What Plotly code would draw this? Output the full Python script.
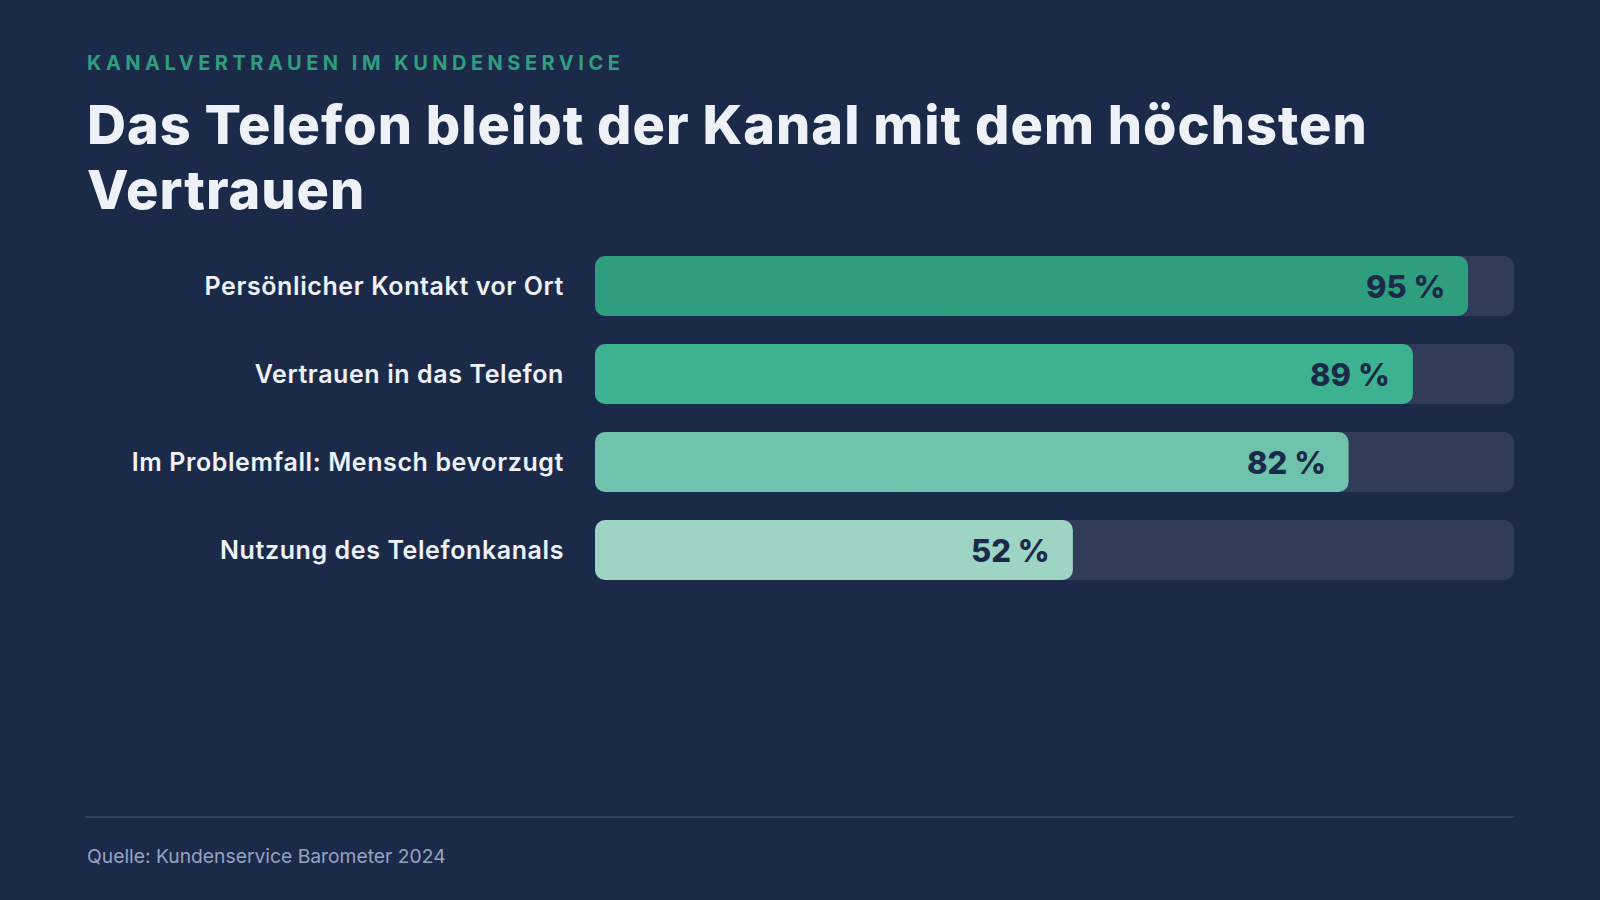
import plotly.graph_objects as go

categories = ["Persönlicher Kontakt vor Ort", "Vertrauen in das Telefon",
              "Im Problemfall: Mensch bevorzugt", "Nutzung des Telefonkanals"]
values = [95, 89, 82, 52]
value_labels = ["95 %", "89 %", "82 %", "52 %"]
bar_colors = ["#2E9E7E", "#3DB291", "#6FC3AC", "#9DD4C3"]
track_max = 100

kicker = "KANALVERTRAUEN IM KUNDENSERVICE"
title_lines = ["Das Telefon bleibt der Kanal mit dem höchsten", "Vertrauen"]
source = "Quelle: Kundenservice Barometer 2024"

BG = "#1C2A4A"
TRACK = "#313C5B"
FONT = "Inter"
W, H = 1600, 900
X0, X1 = 595, 1514
YTOP, YBOT = 242, 594
RAD = 10

fig = go.Figure()

def rounded_bar(vals, colors):
    # two overlapping halves so both ends get rounded corners
    fig.add_bar(y=categories, x=[-0.6 * v for v in vals], base=[0.6 * v for v in vals],
                orientation="h", marker=dict(color=colors, cornerradius=RAD, line_width=0),
                hoverinfo="skip", showlegend=False)
    fig.add_bar(y=categories, x=[0.6 * v for v in vals], base=[0.4 * v for v in vals],
                orientation="h", marker=dict(color=colors, cornerradius=RAD, line_width=0),
                hoverinfo="skip", showlegend=False)

rounded_bar([track_max] * len(categories), TRACK)
rounded_bar(values, bar_colors)

annotations = []
for c, v, lab in zip(categories, values, value_labels):
    annotations.append(dict(x=v, y=c, xref="x", yref="y", text=lab, showarrow=False,
                            xanchor="right", yanchor="middle", xshift=-21,
                            font=dict(family=FONT, size=31, color=BG, weight=800)))

annotations.append(dict(x=85 / W, y=1 - 63 / H, xref="paper", yref="paper",
                        text=f'<span style="letter-spacing:4.5px">{kicker}</span>',
                        showarrow=False, xanchor="left", yanchor="middle",
                        font=dict(family=FONT, size=20, color="#2E9E7E", weight=700)))
for i, line in enumerate(title_lines):
    annotations.append(dict(x=85 / W, y=1 - (124.5 + 65 * i) / H, xref="paper", yref="paper",
                            text=f'<span style="letter-spacing:1px">{line}</span>',
                            showarrow=False, xanchor="left", yanchor="middle",
                            font=dict(family=FONT, size=54, color="#EEF2F8", weight=800)))
annotations.append(dict(x=85 / W, y=1 - 856 / H, xref="paper", yref="paper",
                        text=source, showarrow=False, xanchor="left", yanchor="middle",
                        font=dict(family=FONT, size=19.3, color="#95A3C2", weight=400)))

tick_text = [f'<span style="letter-spacing:0.6px">{c}</span>' for c in categories]

fig.update_layout(
    width=W, height=H,
    margin=dict(l=0, r=0, t=0, b=0),
    paper_bgcolor=BG, plot_bgcolor=BG,
    barmode="overlay", bargap=1 - 60 / 88,
    showlegend=False, hovermode=False,
    xaxis=dict(range=[0, track_max], domain=[X0 / W, X1 / W], visible=False, fixedrange=True),
    yaxis=dict(categoryorder="array", categoryarray=categories, autorange="reversed",
               tickmode="array", tickvals=categories, ticktext=tick_text,
               domain=[1 - YBOT / H, 1 - YTOP / H], showgrid=False, zeroline=False,
               showline=False, ticks="", ticklabelstandoff=30, fixedrange=True,
               tickfont=dict(family=FONT, size=25, color="#EEF2F8", weight=600)),
    annotations=annotations,
    shapes=[dict(type="line", xref="paper", yref="paper", x0=85 / W, x1=X1 / W,
                 y0=1 - 817 / H, y1=1 - 817 / H, line=dict(color="#3A4868", width=1.5))],
)

fig.write_html("out.html", config={"displayModeBar": False})
